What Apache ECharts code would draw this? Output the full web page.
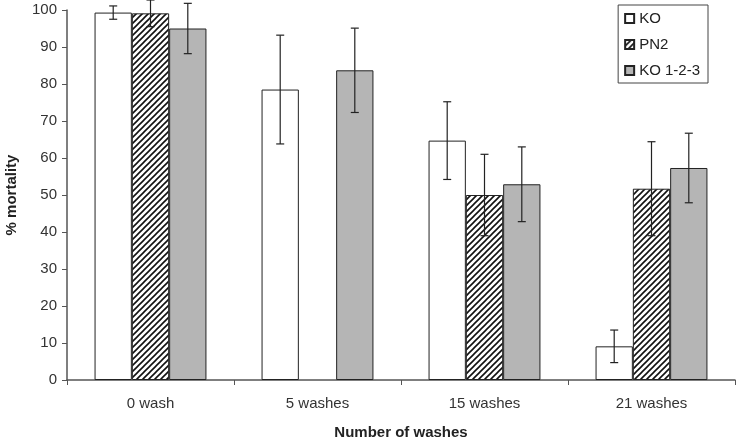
<!DOCTYPE html>
<html>
<head>
<meta charset="utf-8">
<script src="https://cdn.jsdelivr.net/npm/echarts@6/dist/echarts.min.js"></script>
<style>
  html, body { margin: 0; padding: 0; background: #fff; }
  #chart { width: 741px; height: 441px; }
</style>
</head>
<body>
<div id="chart"></div>
<script>
var categories = ['0 wash', '5 washes', '15 washes', '21 washes'];
var seriesNames = ['KO', 'PN2', 'KO 1-2-3'];
// mean % mortality per group (PN2 has no value at 5 washes)
var koValues = [99.3, 78.5, 64.7, 9.1];
var pn2Values = [99.1, null, 50.0, 51.7];
var ko123Values = [95.0, 83.7, 52.9, 57.3];
// error bar half-widths
var koErrors = [1.8, 14.7, 10.5, 4.4];
var pn2Errors = [3.6, null, 11.0, 12.7];
var ko123Errors = [6.8, 11.4, 10.1, 9.4];

var myChart = echarts.init(document.getElementById('chart'));

// hatch pattern for PN2
var hatch = document.createElement('canvas');
hatch.width = 6;
hatch.height = 6;
var ctx = hatch.getContext('2d');
ctx.fillStyle = '#fff';
ctx.fillRect(0, 0, 6, 6);
ctx.strokeStyle = '#111';
ctx.lineWidth = 1.6;
ctx.beginPath();
ctx.moveTo(-1, 7); ctx.lineTo(7, -1);
ctx.moveTo(-4, 4); ctx.lineTo(4, -4);
ctx.moveTo(2, 10); ctx.lineTo(10, 2);
ctx.stroke();

var fills = ['#ffffff', { image: hatch, repeat: 'repeat' }, '#b5b5b5'];
var allValues = [koValues, pn2Values, ko123Values];
var allErrors = [koErrors, pn2Errors, ko123Errors];

var errData = [];
for (var s = 0; s < 3; s++) {
  for (var c = 0; c < categories.length; c++) {
    if (allValues[s][c] == null) continue;
    errData.push([c, s, allValues[s][c] - allErrors[s][c], allValues[s][c] + allErrors[s][c]]);
  }
}

var gapRatio = 0.33;

var series = seriesNames.map(function (name, i) {
  return {
    name: name,
    type: 'bar',
    data: allValues[i],
    barGap: '0%',
    barCategoryGap: (gapRatio * 100) + '%',
    itemStyle: { color: fills[i], borderColor: '#222', borderWidth: 1 },
    emphasis: { disabled: true }
  };
});

series.push({
  type: 'custom',
  name: 'err',
  clip: false,
  z: 10,
  data: errData,
  encode: { x: 0, y: [2, 3] },
  renderItem: function (params, api) {
    var cat = api.value(0);
    var s = api.value(1);
    var catW = api.size([1, 0])[0];
    var barW = catW * (1 - gapRatio) / 3;
    var center = api.coord([cat, 0])[0];
    var x = center + (s - 1) * barW;
    var lo = api.coord([cat, api.value(2)])[1];
    var hi = api.coord([cat, api.value(3)])[1];
    var cap = 4;
    var style = { stroke: '#222', lineWidth: 1.2, fill: null };
    return {
      type: 'group',
      children: [
        { type: 'line', shape: { x1: x, y1: lo, x2: x, y2: hi }, style: style },
        { type: 'line', shape: { x1: x - cap, y1: lo, x2: x + cap, y2: lo }, style: style },
        { type: 'line', shape: { x1: x - cap, y1: hi, x2: x + cap, y2: hi }, style: style }
      ]
    };
  }
});

var option = {
  backgroundColor: '#fff',
  animation: false,
  textStyle: { fontFamily: 'Liberation Sans, Arial, sans-serif' },
  grid: { left: 67, right: 6, top: 10, bottom: 61, outerBoundsMode: 'none', containLabel: false },
  legend: {
    data: seriesNames,
    icon: 'rect',
    orient: 'vertical',
    right: 33,
    top: 5,
    itemWidth: 9,
    itemHeight: 9,
    itemGap: 11,
    padding: [6, 8, 5, 6],
    borderColor: '#444',
    borderWidth: 1,
    textStyle: { fontSize: 15, color: '#222' }
  },
  xAxis: {
    type: 'category',
    data: categories,
    name: 'Number of washes',
    nameLocation: 'middle',
    nameGap: 45,
    nameTextStyle: { fontSize: 15, fontWeight: 'bold', color: '#222' },
    axisLine: { lineStyle: { color: '#555', width: 1.5 } },
    axisTick: { show: true, length: 5, lineStyle: { color: '#555' } },
    axisLabel: { fontSize: 15, color: '#333', margin: 16 }
  },
  yAxis: {
    type: 'value',
    min: 0,
    max: 100,
    interval: 10,
    name: '% mortality',
    nameLocation: 'middle',
    nameGap: 48,
    nameTextStyle: { fontSize: 15, fontWeight: 'bold', color: '#222' },
    axisLine: { show: true, lineStyle: { color: '#555', width: 1.5 } },
    axisTick: { show: true, length: 5, lineStyle: { color: '#555' } },
    axisLabel: { fontSize: 15, color: '#333', margin: 10 },
    splitLine: { show: false }
  },
  series: series
};

myChart.setOption(option);
</script>
</body>
</html>
